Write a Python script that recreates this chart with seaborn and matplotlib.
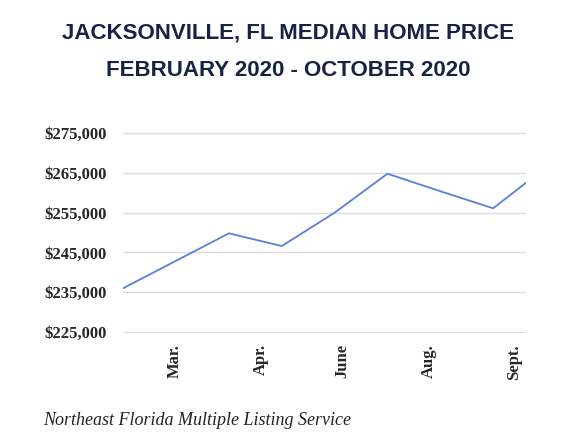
import matplotlib
matplotlib.use("Agg")
import matplotlib.pyplot as plt
import seaborn as sns
import pandas as pd
from matplotlib.ticker import FuncFormatter

# monthly median prices, Feb - Oct 2020
months = ["Feb", "Mar", "Apr", "May", "Jun", "Jul", "Aug", "Sep", "Oct"]
x_pos = [0, 1, 2, 3, 4, 5, 6, 7, 7.62]
prices = [236000, 242900, 249800, 246600, 255000, 264800, 260400, 256100, 262500]

tick_pos = [0.98, 2.6, 4.15, 5.79, 7.4]
tick_labels = ["Mar.", "Apr.", "June", "Aug.", "Sept."]
y_ticks = [225000, 235000, 245000, 255000, 265000, 275000]

df = pd.DataFrame({"x": x_pos, "price": prices, "month": months})

sns.set_style("white")
fig = plt.figure(figsize=(5.76, 4.4), dpi=100)
ax = fig.add_axes([0.214, 0.243, 0.699, 0.457])

sns.lineplot(data=df, x="x", y="price", ax=ax, color="#5b7fd6", linewidth=1.3)

ax.set_xlim(0, 7.62)
ax.set_ylim(224700, 275300)
ax.set_yticks(y_ticks)
ax.yaxis.set_major_formatter(FuncFormatter(lambda v, p: f"${v:,.0f}"))
ax.set_xticks(tick_pos)
ax.set_xticklabels(tick_labels, rotation=90)
for lab in ax.get_xticklabels() + ax.get_yticklabels():
    lab.set_family("Liberation Serif")
    lab.set_fontweight("bold")
    lab.set_fontsize(12)
ax.tick_params(axis="y", length=0, pad=12)
ax.tick_params(axis="x", length=0, pad=8)
ax.grid(axis="y", color="#dddddd", linewidth=1)
ax.set_xlabel("")
ax.set_ylabel("")
sns.despine(ax=ax, left=True, bottom=True)

fig.text(0.5, 0.925, "JACKSONVILLE, FL MEDIAN HOME PRICE", ha="center", va="center",
         family="Liberation Sans", fontweight="bold", fontsize=16, color="#172244")
fig.text(0.5, 0.84, "FEBRUARY 2020 - OCTOBER 2020", ha="center", va="center",
         family="Liberation Sans", fontweight="bold", fontsize=16, color="#172244")
fig.text(0.075, 0.045, "Northeast Florida Multiple Listing Service", ha="left", va="center",
         family="Liberation Serif", style="italic", fontsize=13, color="#222222")

fig.savefig("out.png", dpi=100)
